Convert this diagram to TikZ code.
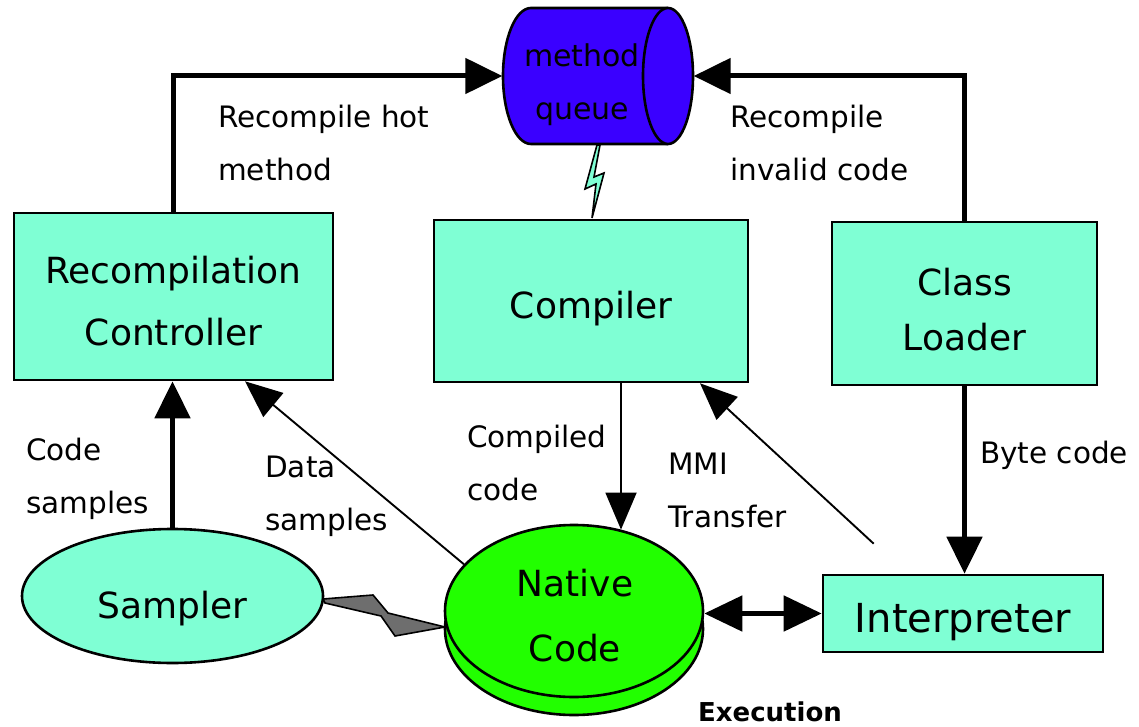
\documentclass[tikz,border=0pt]{standalone}
\usepackage{fontspec}
\setmainfont{DejaVu Sans}
\usetikzlibrary{arrows.meta,shapes.geometric,calc}

\definecolor{aqua}{RGB}{127,255,212}
\definecolor{qblue}{RGB}{58,0,255}
\definecolor{ngreen}{RGB}{34,255,0}
\definecolor{boltgray}{RGB}{110,110,110}

\begin{document}
\begin{tikzpicture}[x=1pt,y=-1pt,
  box/.style={draw,line width=2.6pt,fill=aqua,inner sep=0pt},
  boxtext/.style={align=center,inner sep=0pt,font=\fontsize{36}{62}\selectfont},
  lbl/.style={align=left,anchor=west,inner sep=0pt,
    font=\fontsize{29.5}{53}\selectfont},
  heavy/.style={line width=5pt,-{Triangle[length=37pt,width=35pt]}},
  light/.style={line width=1.9pt,-{Triangle[length=37pt,width=31pt]}},
  both/.style={line width=5pt,{Triangle[length=38pt,width=35pt]}-{Triangle[length=38pt,width=35pt]}},
]
\useasboundingbox (0,0) rectangle (1139,727);

% method queue cylinder
\draw[line width=2.6pt,fill=qblue] (668,8) -- (531,8)
  arc[start angle=270,end angle=90,x radius=28,y radius=68] -- (668,144);
\draw[line width=2.6pt,fill=qblue] (668,76) ellipse [x radius=25,y radius=68];
\node[minimum width=191pt,minimum height=136pt,inner sep=0pt] (mq) at (598,76) {};
\node[boxtext,font=\fontsize{30}{53}\selectfont] (mqt) at (582,85) {method\\queue};

% boxes
\node[box,minimum width=319pt,minimum height=167pt] (rc) at (173.5,296.5) {};
\node[boxtext] (rct) at (173.5,301.5) {Recompilation\\Controller};
\node[box,minimum width=314pt,minimum height=162pt] (comp) at (591,301) {};
\node[boxtext] (compt) at (591,309) {Compiler};
\node[box,minimum width=265pt,minimum height=163pt] (cl) at (964.5,303.5) {};
\node[boxtext,font=\fontsize{36}{55}\selectfont] (clt) at (964.5,310) {Class\\Loader};
\node[box,minimum width=280pt,minimum height=77pt] (interp) at (963,613.5) {};
\node[boxtext,font=\fontsize{40}{50}\selectfont] (interpt) at (963,622.5) {Interpreter};

% sampler
\node[ellipse,draw,line width=2.6pt,fill=aqua,minimum width=301pt,minimum height=134pt,
  inner sep=0pt] (samp) at (172.5,596) {};
\node[boxtext] (sampt) at (172.5,609) {Sampler};

% native code disk
\draw[line width=2.6pt,fill=ngreen] (574,629) ellipse [x radius=129,y radius=86];
\node[ellipse,draw,line width=2.6pt,fill=ngreen,minimum width=258pt,minimum height=172pt,
  inner sep=0pt] (nc) at (574,611) {};
\node[boxtext,font=\fontsize{36}{65}\selectfont] (nct) at (575,616) {Native\\Code};

% lightning links
\filldraw[fill=aqua,line width=1.6pt,line join=miter]
  (597,145) -- (585,189) -- (596,184) -- (592,218) -- (604,173) -- (594,177)
  -- (600,145) -- cycle;
\filldraw[fill=boltgray,line width=1.6pt,line join=miter]
  (323,599) -- (373,595) -- (388,613) -- (445,627) -- (395,636) -- (381,616)
  -- (325,603) -- cycle;

% connectors
\draw[heavy] (rc.north) |- (mq.west);
\draw[heavy] (cl.north) |- (mq.east);
\draw[heavy] (samp.north) -- (samp.north |- rc.south);
\draw[light] (nc.157) -- ($(rc.south)+(71.5,0)$);
\draw[light] (comp.south -| nc.60) -- (nc.60);
\coordinate (mmi) at ($(interp.north west)+(52,-30)$);
\draw[light] (mmi) -- ($(comp.south)+(109,0)$);
\draw[heavy] (cl.south) -- (cl.south |- interp.north);
\draw[both] (nc.east |- interp.west) -- (interp.west);

% labels
\node[lbl] (lrh) at (218,143) {Recompile hot\\method};
\node[lbl] (lri) at (730,143) {Recompile\\invalid code};
\node[lbl] (lcs) at (26,479) {Code\\samples};
\node[lbl] (lds) at (265,496) {Data\\samples};
\node[lbl] (lcc) at (467,463) {Compiled\\code};
\node[lbl] (lmt) at (668,490) {MMI\\Transfer};
\node[lbl] (lbc) at (980,455) {Byte code};
\node[inner sep=0pt,font=\fontsize{26}{30}\selectfont\bfseries] (lex) at (770,712)
  {Execution};
\end{tikzpicture}
\end{document}
